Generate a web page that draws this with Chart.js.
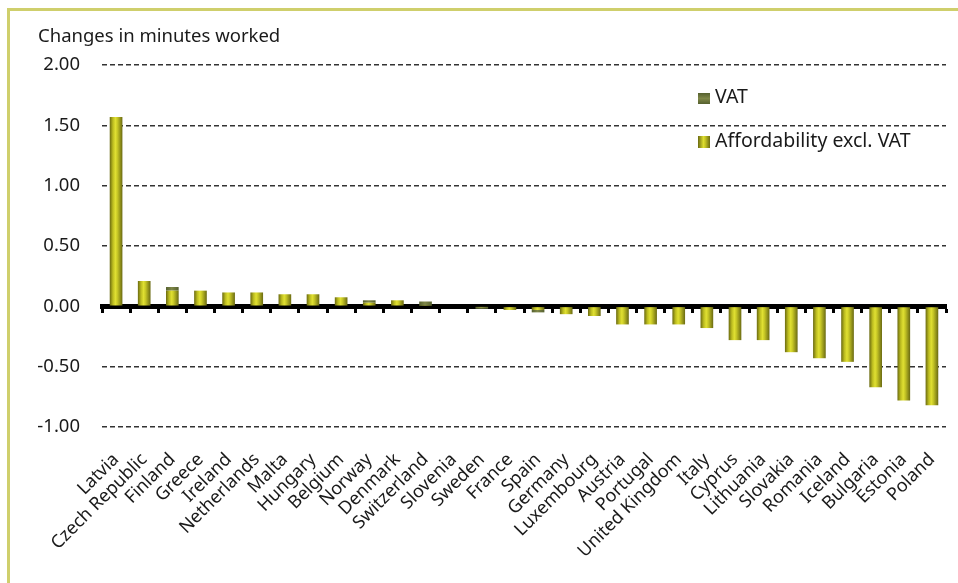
<!DOCTYPE html>
<html>
<head>
<meta charset="utf-8">
<title>Changes in minutes worked</title>
<script src="https://cdn.jsdelivr.net/npm/chart.js@4.4.1/dist/chart.umd.min.js"></script>
<style>
  body { margin: 0; background: #fff; }
  #wrap { position: relative; width: 958px; height: 583px; overflow: hidden; font-family: 'Noto Sans', sans-serif; color: #1a1a1a; }
  #frame { position: absolute; left: 7px; top: 8px; width: 1000px; height: 1000px; border-left: 3px solid #cfcf6c; border-top: 3px solid #cfcf6c; }
  #chart { position: absolute; left: 0; top: 0; }
  #ytitle { position: absolute; left: 38px; top: 22px; font-size: 18.5px; white-space: nowrap; }
  .key { position: absolute; left: 698px; font-size: 19.5px; white-space: nowrap; line-height: 20px; }
  .key i { display: inline-block; width: 12px; height: 11px; margin-right: 5px; vertical-align: -1px; }
  #keyVat { top: 86px; }
  #keyVat i { background: linear-gradient(to bottom, #55602f, #7f8748 50%, #55602f); }
  #keyAff { top: 130px; }
  #keyAff i { height: 12px; background: linear-gradient(to right, #6a6a10, #dede30 45%, #c6c624 60%, #6a6a12); }
</style>
</head>
<body>
<div id="wrap">
  <div id="frame"></div>
  <canvas id="chart" width="958" height="583"></canvas>
  <div id="ytitle">Changes in minutes worked</div>
  <div class="key" id="keyVat"><i></i>VAT</div>
  <div class="key" id="keyAff"><i></i>Affordability excl. VAT</div>
</div>
<script>
// countries, ordered as plotted
const countries = ['Latvia', 'Czech Republic', 'Finland', 'Greece', 'Ireland', 'Netherlands', 'Malta',
  'Hungary', 'Belgium', 'Norway', 'Denmark', 'Switzerland', 'Slovenia', 'Sweden', 'France', 'Spain',
  'Germany', 'Luxembourg', 'Austria', 'Portugal', 'United Kingdom', 'Italy', 'Cyprus', 'Lithuania',
  'Slovakia', 'Romania', 'Iceland', 'Bulgaria', 'Estonia', 'Poland'];

// change in minutes worked, split into the two effects
const affordability = [1.57, 0.21, 0.13, 0.13, 0.115, 0.115, 0.10, 0.10, 0.075, 0.03, 0.05, 0.005, 0,
  -0.005, -0.03, -0.03, -0.065, -0.08, -0.15, -0.15, -0.15, -0.18, -0.28, -0.28, -0.38, -0.43, -0.46,
  -0.67, -0.78, -0.82];
const vat = [0, 0, 0.03, 0, 0, 0, 0, 0, 0, 0.02, 0, 0.035, 0, -0.015, 0, -0.02, 0, 0, 0, 0, 0, 0, 0,
  0, 0, 0, 0, 0, 0, 0];

const yTicks = [-1, -0.5, 0, 0.5, 1, 1.5, 2];

const BAR_PCT = 0.45;

// horizontal "cylinder" shading across each bar
function shaded(stops) {
  return function(context) {
    const chart = context.chart;
    const x = chart.scales.x;
    if (!chart.chartArea || !x) return stops[1][1];
    const c = x.getPixelForValue(context.dataIndex);
    const w = x.width / countries.length * BAR_PCT;
    const g = chart.ctx.createLinearGradient(c - w / 2, 0, c + w / 2, 0);
    stops.forEach(s => g.addColorStop(s[0], s[1]));
    return g;
  };
}

const yellowStops = [[0, '#6a6a10'], [0.25, '#bcbc20'], [0.45, '#e0e032'], [0.6, '#c8c826'], [1, '#6a6a12']];
const oliveStops = [[0, '#55602f'], [0.45, '#7f8748'], [1, '#55602f']];

new Chart(document.getElementById('chart'), {
  type: 'bar',
  data: {
    labels: countries,
    datasets: [
      { label: 'Affordability excl. VAT', data: affordability, backgroundColor: shaded(yellowStops), stack: 's' },
      { label: 'VAT', data: vat, backgroundColor: shaded(oliveStops), stack: 's' }
    ]
  },
  options: {
    responsive: false,
    animation: false,
    events: [],
    layout: { padding: { top: 65, right: 12, left: 0, bottom: 0 } },
    datasets: { bar: { categoryPercentage: 1, barPercentage: BAR_PCT } },
    plugins: { legend: { display: false }, tooltip: { enabled: false } },
    scales: {
      x: {
        stacked: true,
        grid: { display: false, drawTicks: false },
        border: { display: false },
        ticks: {
          autoSkip: false, minRotation: 45, maxRotation: 45, padding: 22,
          color: '#1a1a1a', font: { family: 'Noto Sans', size: 18 }
        },
        // rotated labels would otherwise push the plot in from the right
        afterFit: s => { s.height = 156; s.paddingLeft = 0; s.paddingRight = 0; }
      },
      // zero line with its small tick marks between countries
      zero: {
        type: 'category',
        axis: 'x',
        labels: countries,
        position: { y: 0 },
        offset: true,
        z: 1,
        grid: { offset: true, drawOnChartArea: false, drawTicks: true, tickLength: 4, tickWidth: 3, tickColor: '#000' },
        border: { display: true, color: '#000', width: 5 },
        ticks: { display: false }
      },
      y: {
        stacked: true,
        min: -1, max: 2,
        afterBuildTicks: s => { s.ticks = yTicks.map(v => ({ value: v })); },
        grid: {
          drawTicks: false,
          lineWidth: 1.6,
          color: c => c.tick && c.tick.value === 0 ? 'rgba(0,0,0,0)' : '#333'
        },
        border: { display: false, dash: [5, 3] },
        ticks: {
          padding: 22,
          color: '#1a1a1a',
          font: { family: 'Noto Sans', size: 18.5 },
          callback: v => Number(v).toFixed(2)
        },
        afterFit: s => { s.width = 102; }
      }
    }
  }
});
</script>
</body>
</html>
